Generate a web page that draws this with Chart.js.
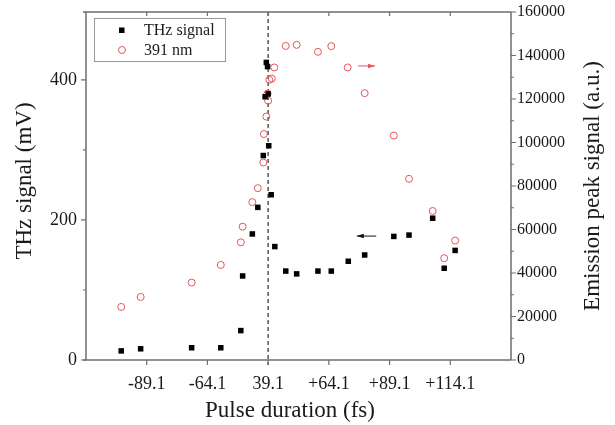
<!DOCTYPE html>
<html>
<head>
<meta charset="utf-8">
<script src="https://cdn.jsdelivr.net/npm/chart.js@4/dist/chart.umd.min.js"></script>
<style>
  html, body { margin: 0; padding: 0; background: #fff; }
  #wrap { width: 615px; height: 425px; }
</style>
</head>
<body>
<div id="wrap"><canvas id="c" width="615" height="425"></canvas></div>
<script>
// ---- data (x in tick units: tick k <-> xTickLabels[k+2]) ----
const xTickPositions = [-2, -1, 0, 1, 2, 3];
const xTickLabels = ['-89.1', '-64.1', '39.1', '+64.1', '+89.1', '+114.1'];

const thzX = [-2.42, -2.10, -1.26, -0.78, -0.45, -0.42, -0.26, -0.17, -0.08, 0.01, 0.05, -0.05, 0.00, -0.03, -0.01, 0.11, 0.29, 0.47, 0.82, 1.04, 1.32, 1.59, 2.07, 2.32, 2.71, 2.90, 3.08];
const thzY = [13, 16, 17.5, 17.5, 42, 120, 180, 218, 292, 306, 236, 376, 380, 425, 419, 162, 127, 123, 127, 127, 141, 150, 176.5, 178.4, 202.5, 131, 156.5];

const emX = [-2.42, -2.10, -1.26, -0.78, -0.45, -0.42, -0.26, -0.17, -0.08, -0.07, -0.03, 0.00, -0.01, 0.02, 0.06, 0.10, 0.29, 0.47, 0.82, 1.04, 1.31, 1.59, 2.07, 2.32, 2.71, 2.90, 3.08];
const emY = [24400, 29000, 35600, 43700, 54100, 61300, 72600, 79000, 90800, 103900, 111900, 119200, 122500, 128800, 129400, 134500, 144400, 144900, 141700, 144300, 134500, 122700, 103200, 83300, 68500, 46800, 54900];

const leftTicks = [0, 200, 400];
const leftMinor = [100, 300];
const rightTicks = [0, 20000, 40000, 60000, 80000, 100000, 120000, 140000, 160000];
const rightMinor = [10000, 30000, 50000, 70000, 90000, 110000, 130000, 150000];

const seriesNames = ['THz signal', '391 nm'];
const axisTitles = { x: 'Pulse duration (fs)', y: 'THz signal (mV)', y2: 'Emission peak signal (a.u.)' };

// annotation arrows (data coordinates)
const redArrow = { x0: 1.48, x1: 1.76, y: 135200 };   // right axis, points right
const blackArrow = { x0: 1.78, x1: 1.46, y: 177 };    // left axis, points left

const FONT = '"Liberation Serif", "Times New Roman", serif';
const AXIS = '#6e6e6e';
const RED = '#e5555a';
const TITLE_SIZE = 23;

const thzData = thzX.map((x, i) => ({ x, y: thzY[i] }));
const emData = emX.map((x, i) => ({ x, y: emY[i] }));

function arrow(ctx, x0, y0, x1, y1, color) {
  ctx.save();
  ctx.strokeStyle = color; ctx.fillStyle = color; ctx.lineWidth = 1;
  ctx.beginPath(); ctx.moveTo(x0, y0); ctx.lineTo(x1, y1); ctx.stroke();
  const dir = Math.sign(x1 - x0);
  ctx.beginPath();
  ctx.moveTo(x1, y1);
  ctx.lineTo(x1 - dir * 7, y1 - 2.2);
  ctx.lineTo(x1 - dir * 7, y1 + 2.2);
  ctx.closePath(); ctx.fill();
  ctx.restore();
}

function vText(ctx, text, x, y) {
  ctx.save();
  ctx.translate(x, y);
  ctx.rotate(-Math.PI / 2);
  ctx.fillText(text, 0, 0);
  ctx.restore();
}

const decor = {
  id: 'decor',
  beforeDatasetsDraw(chart) {
    const { ctx, chartArea: a, scales } = chart;
    const xs = scales.x;
    ctx.save();
    const xd = xs.getPixelForValue(0);
    ctx.strokeStyle = '#555'; ctx.lineWidth = 1.5; ctx.setLineDash([4, 3]);
    ctx.beginPath(); ctx.moveTo(xd, a.top); ctx.lineTo(xd, a.bottom + 5); ctx.stroke();
    ctx.setLineDash([]);
    ctx.restore();
  },
  afterDatasetsDraw(chart) {
    const { ctx, chartArea: a, scales } = chart;
    const xs = scales.x, yl = scales.y, yr = scales.y2;
    ctx.save();
    // frame
    ctx.strokeStyle = AXIS; ctx.lineWidth = 1.5;
    ctx.beginPath();
    ctx.moveTo(a.left - 3, a.top); ctx.lineTo(a.right, a.top);
    ctx.moveTo(a.left, a.top); ctx.lineTo(a.left, a.bottom);
    ctx.moveTo(a.left - 3, a.bottom); ctx.lineTo(a.right, a.bottom);
    ctx.moveTo(a.right, a.top); ctx.lineTo(a.right, a.bottom);
    ctx.stroke();
    ctx.lineWidth = 1.2;
    ctx.beginPath();
    xTickPositions.forEach(v => {
      const px = xs.getPixelForValue(v);
      ctx.moveTo(px, a.bottom); ctx.lineTo(px, a.bottom + 5);
      ctx.moveTo(px, a.top); ctx.lineTo(px, a.top + 4);
    });
    leftTicks.forEach(v => { const py = yl.getPixelForValue(v); ctx.moveTo(a.left, py); ctx.lineTo(a.left - 5, py); });
    leftMinor.forEach(v => { const py = yl.getPixelForValue(v); ctx.moveTo(a.left, py); ctx.lineTo(a.left - 3, py); });
    rightTicks.forEach(v => { const py = yr.getPixelForValue(v); ctx.moveTo(a.right, py); ctx.lineTo(a.right + 5, py); });
    rightMinor.forEach(v => { const py = yr.getPixelForValue(v); ctx.moveTo(a.right, py); ctx.lineTo(a.right + 3, py); });
    ctx.stroke();

    // arrows
    arrow(ctx, xs.getPixelForValue(redArrow.x0), yr.getPixelForValue(redArrow.y),
      xs.getPixelForValue(redArrow.x1), yr.getPixelForValue(redArrow.y), RED);
    arrow(ctx, xs.getPixelForValue(blackArrow.x0), yl.getPixelForValue(blackArrow.y),
      xs.getPixelForValue(blackArrow.x1), yl.getPixelForValue(blackArrow.y), '#111');

    // legend
    const lx = a.left + 8, ly = a.top + 6;
    ctx.fillStyle = '#fff';
    ctx.fillRect(lx, ly, 131, 43);
    ctx.strokeStyle = '#9a9a9a'; ctx.lineWidth = 1;
    ctx.strokeRect(lx + 0.5, ly + 0.5, 131, 43);
    ctx.fillStyle = '#000';
    ctx.fillRect(lx + 25, ly + 9.5, 5.5, 5.5);
    ctx.strokeStyle = RED; ctx.lineWidth = 1;
    ctx.beginPath(); ctx.arc(lx + 28, ly + 32, 3.5, 0, Math.PI * 2); ctx.stroke();
    ctx.fillStyle = '#1a1a1a';
    ctx.font = '16px ' + FONT;
    ctx.textBaseline = 'middle'; ctx.textAlign = 'left';
    ctx.fillText(seriesNames[0], lx + 50, ly + 12.5);
    ctx.fillText(seriesNames[1], lx + 50, ly + 32.5);

    // axis titles
    ctx.font = TITLE_SIZE + 'px ' + FONT;
    ctx.textAlign = 'center'; ctx.textBaseline = 'middle';
    ctx.fillStyle = '#1a1a1a';
    ctx.fillText(axisTitles.x, 290, 411);
    vText(ctx, axisTitles.y, 25, 181);
    vText(ctx, axisTitles.y2, 593, 186);
    ctx.restore();
  }
};

function fixV(w) {
  return s => { s.width = w; s.paddingTop = 0; s.paddingBottom = 0; };
}

new Chart(document.getElementById('c'), {
  type: 'scatter',
  data: {
    datasets: [
      {
        label: seriesNames[0], data: thzData, yAxisID: 'y',
        pointStyle: 'rect', pointRadius: 3.9, pointHoverRadius: 3.9,
        backgroundColor: '#000', borderColor: '#000', borderWidth: 0
      },
      {
        label: seriesNames[1], data: emData, yAxisID: 'y2',
        pointStyle: 'circle', pointRadius: 3.5, pointHoverRadius: 3.5,
        backgroundColor: 'rgba(0,0,0,0)', borderColor: RED, borderWidth: 1
      }
    ]
  },
  options: {
    responsive: false, animation: false, devicePixelRatio: 1,
    layout: { padding: { top: 12, left: 0, right: 0, bottom: 0 } },
    plugins: { legend: { display: false }, tooltip: { enabled: false } },
    scales: {
      x: {
        type: 'linear', position: 'bottom', min: -3, max: 4,
        afterBuildTicks: s => { s.ticks = xTickPositions.map(v => ({ value: v })); },
        afterFit: s => { s.height = 65; s.paddingLeft = 0; s.paddingRight = 0; },
        grid: { display: true, drawOnChartArea: false, drawTicks: false },
        border: { display: false },
        ticks: {
          padding: 13, maxRotation: 0, autoSkip: false, color: '#1a1a1a',
          font: { family: FONT, size: 18 },
          callback: v => { const i = xTickPositions.indexOf(v); return i >= 0 ? xTickLabels[i] : ''; }
        },
        title: { display: false }
      },
      y: {
        type: 'linear', position: 'left', min: 0, max: 497,
        afterBuildTicks: s => { s.ticks = leftTicks.map(v => ({ value: v })); },
        afterFit: fixV(86),
        grid: { display: true, drawOnChartArea: false, drawTicks: false },
        border: { display: false },
        ticks: { padding: 9, color: '#1a1a1a', font: { family: FONT, size: 18 } },
        title: { display: false }
      },
      y2: {
        type: 'linear', position: 'right', min: 0, max: 160000,
        afterBuildTicks: s => { s.ticks = rightTicks.map(v => ({ value: v })); },
        afterFit: fixV(104),
        grid: { display: true, drawOnChartArea: false, drawTicks: false },
        border: { display: false },
        ticks: { padding: 6, color: '#1a1a1a', font: { family: FONT, size: 16 }, callback: v => String(v) }
      }
    }
  },
  plugins: [decor]
});
</script>
</body>
</html>
